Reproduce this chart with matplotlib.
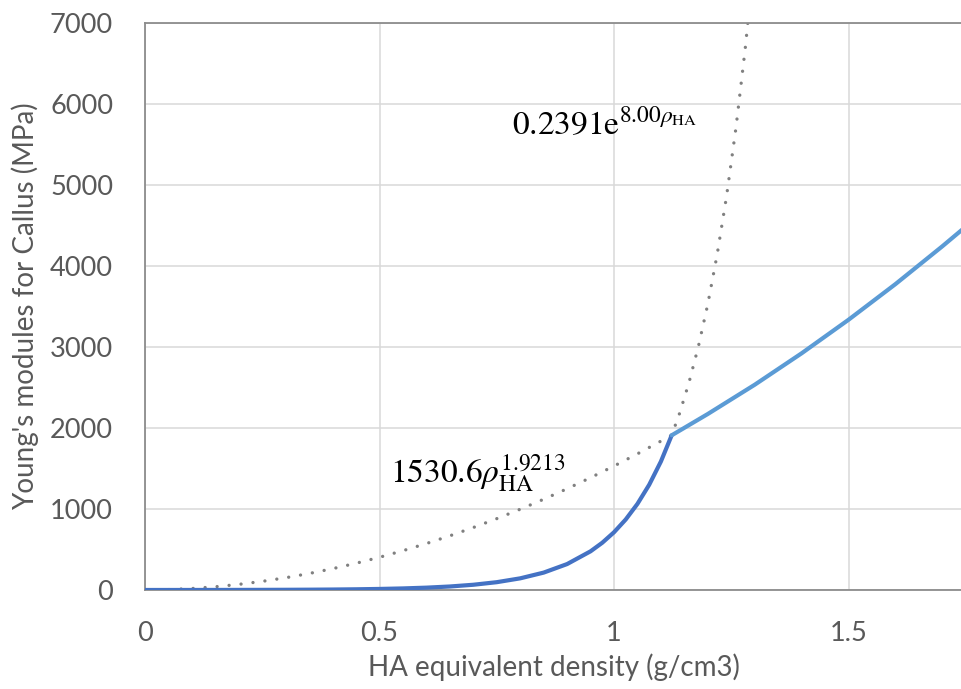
import matplotlib
matplotlib.use("Agg")
import matplotlib.pyplot as plt

# ---- data ----
# lower solid branch (exponential fit), dark blue
rho_low = [0.0, 0.05, 0.1, 0.15, 0.2, 0.25, 0.3, 0.35, 0.4, 0.45, 0.5, 0.55, 0.6,
           0.65, 0.7, 0.75, 0.8, 0.85, 0.9, 0.95, 0.975, 1.0, 1.025, 1.05, 1.075,
           1.1, 1.123]
E_low = [0.24, 0.36, 0.53, 0.79, 1.18, 1.77, 2.64, 3.93, 5.87, 8.75, 13.1, 19.5, 29.0,
         43.3, 64.7, 96.5, 143.9, 214.7, 320.2, 477.7, 583.5, 712.8, 870.6, 1063.3,
         1298.7, 1586.2, 1910]
# upper solid branch (power fit), light blue
rho_high = [1.123, 1.15, 1.2, 1.3, 1.4, 1.5, 1.6, 1.7, 1.75]
E_high = [1910, 2002, 2173, 2534, 2922, 3336, 3776, 4243, 4486]
# dotted continuation: power law below the crossing, exponential above
rho_dot = [0.0, 0.05, 0.1, 0.15, 0.2, 0.25, 0.3, 0.35, 0.4, 0.45, 0.5, 0.55, 0.6,
           0.65, 0.7, 0.75, 0.8, 0.85, 0.9, 0.95, 1.0, 1.05, 1.1, 1.123,
           1.14, 1.16, 1.18, 1.2, 1.22, 1.24, 1.26, 1.28, 1.3]
E_dot = [0, 4.8, 18.4, 40.0, 69.5, 106.7, 151.4, 203.7, 263.2, 330.0, 404.1, 485.3,
         573.6, 669.0, 771.3, 880.7, 996.9, 1120.1, 1250.1, 1387.0, 1530.6, 1681.0,
         1838.2, 1910, 2184, 2563, 3008, 3530, 4143, 4862, 5705, 6695, 7857]

x_ticks = [0, 0.5, 1, 1.5]
x_tick_labels = ["0", "0.5", "1", "1.5"]
y_ticks = [0, 1000, 2000, 3000, 4000, 5000, 6000, 7000]

label_exp = r"$0.2391\mathrm{e}^{8.00\rho_{\mathrm{HA}}}$"
label_pow = r"$1530.6\rho_{\mathrm{HA}}^{1.9213}$"

plt.rcParams["font.family"] = ["Lato", "DejaVu Sans"]
plt.rcParams["mathtext.fontset"] = "stix"

fig = plt.figure(figsize=(9.62, 6.89), dpi=100)
ax = fig.add_axes([145 / 962, 99 / 689, 1 - 145 / 962, (590 - 23) / 689])

ax.set_xlim(0, 1.742)
ax.set_ylim(0, 7000)
ax.set_xticks(x_ticks)
ax.set_xticklabels(x_tick_labels)
ax.set_yticks(y_ticks)
ax.grid(True, color="#d9d9d9", linewidth=1.1)
ax.set_axisbelow(True)

for s in ("top", "left", "bottom"):
    ax.spines[s].set_color("#8c8c8c")
    ax.spines[s].set_linewidth(1.3)
ax.spines["right"].set_visible(False)

ax.tick_params(length=0, labelsize=19.5, colors="#595959")
ax.tick_params(axis="y", pad=23)
ax.tick_params(axis="x", pad=22)

ax.plot(rho_dot, E_dot, color="#808080", linewidth=2.4,
        linestyle=(0, (0.01, 3.6)), dash_capstyle="round", zorder=2)
ax.plot(rho_low, E_low, color="#4472C4", linewidth=3.0, zorder=3,
        solid_capstyle="round")
ax.plot(rho_high, E_high, color="#5B9BD5", linewidth=3.0, zorder=3,
        solid_capstyle="round")

ax.text(0.7825, 5617, label_exp, fontsize=24, color="black", va="baseline", ha="left")
ax.text(0.522, 1321, label_pow, fontsize=24, color="black", va="baseline", ha="left")

ax.set_xlabel("HA equivalent density (g/cm3)", fontsize=20, color="#595959", labelpad=6)
ax.set_ylabel("Young's modules for Callus (MPa)", fontsize=20, color="#595959", labelpad=8)

fig.savefig("out.png", dpi=100)
